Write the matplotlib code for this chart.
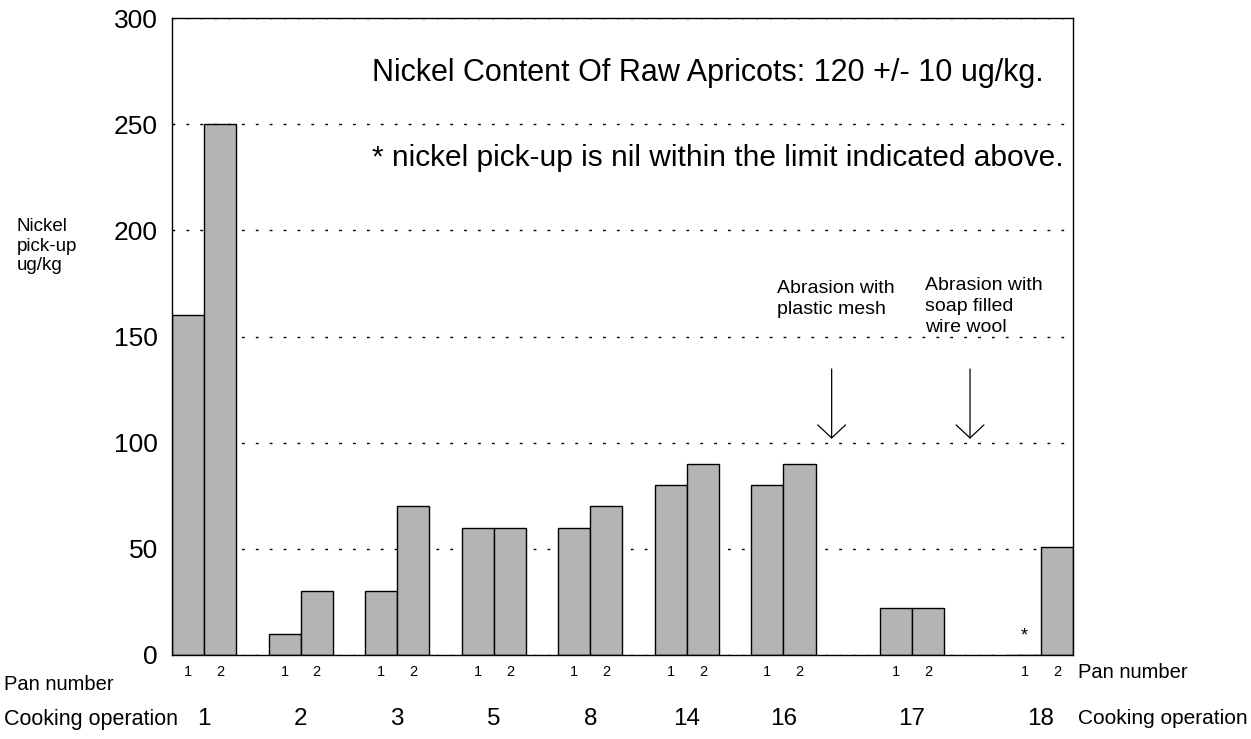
import matplotlib
matplotlib.use("Agg")
import matplotlib.pyplot as plt
import matplotlib.transforms as mtransforms

# data (ug/kg nickel pick-up)
operations = ["1", "2", "3", "5", "8", "14", "16", "17", "18"]
pan1 = [160, 10, 30, 60, 60, 80, 80, 22, 0]
pan2 = [250, 30, 70, 60, 70, 90, 90, 22, 51]
pan1_nil = [False, False, False, False, False, False, False, False, True]
pan_labels = ["1", "2"]
yticks = [0, 50, 100, 150, 200, 250, 300]
abrasions = ["Abrasion with\nplastic mesh", "Abrasion with\nsoap filled\nwire wool"]

plt.rcParams["font.family"] = ["Liberation Sans", "DejaVu Sans"]

fig = plt.figure(figsize=(12.51, 7.39), dpi=100)
ax = fig.add_axes([172 / 1251, 1 - 655 / 739, (1073 - 172) / 1251, (655 - 18) / 739])

# group positions: 3 slots per group, one extra slot where an abrasion happened
starts = []
pos = 0
for op in operations:
    if op in ("17", "18"):
        pos += 1
    starts.append(pos)
    pos += 3

gray = "#b4b4b4"
x1 = [s for s in starts]
x2 = [s + 1 for s in starts]
h1 = [0 if nil else v for v, nil in zip(pan1, pan1_nil)]
ax.bar(x1, h1, width=1, align="edge", facecolor=gray, edgecolor="black", linewidth=1)
ax.bar(x2, pan2, width=1, align="edge", facecolor=gray, edgecolor="black", linewidth=1)
for x, nil in zip(x1, pan1_nil):
    if nil:
        ax.text(x + 0.5, 5, "*", ha="center", va="bottom", fontsize=13)

ax.set_xlim(0, pos - 1)
ax.set_ylim(0, 300)
ax.set_yticks(yticks)
ax.tick_params(axis="y", length=0, pad=10, labelsize=19)

centers = []
labels = []
for s in starts:
    centers += [s + 0.5, s + 1.5]
    labels += pan_labels
ax.set_xticks(centers)
ax.set_xticklabels(labels, fontsize=10.5)
ax.tick_params(axis="x", length=0, pad=7)

ax.yaxis.grid(True, linestyle=(0, (2, 8)), color="black", linewidth=1)
ax.set_axisbelow(True)
for sp in ax.spines.values():
    sp.set_linewidth(1)

# operation numbers under each group
trans = mtransforms.blended_transform_factory(ax.transData, fig.transFigure)
for s, op in zip(starts, operations):
    ax.text(s + 1, 1 - 719 / 739, op, transform=trans, ha="center", va="center", fontsize=17.5)

fig.text(4 / 1251, 1 - 685 / 739, "Pan number", fontsize=14.5, va="center")
fig.text(4 / 1251, 1 - 719 / 739, "Cooking operation", fontsize=15.5, va="center")
fig.text(1078 / 1251, 1 - 672 / 739, "Pan number", fontsize=14.5, va="center")
fig.text(1078 / 1251, 1 - 719 / 739, "Cooking operation", fontsize=15, va="center")
fig.text(17 / 1251, 1 - 218 / 739, "Nickel\npick-up\nug/kg", fontsize=13.5, va="top", linespacing=1.2)

ax.text(6.2, 274, "Nickel Content Of Raw Apricots: 120 +/- 10 ug/kg.", fontsize=22, va="center")
ax.text(6.2, 234, "* nickel pick-up is nil within the limit indicated above.", fontsize=21.5, va="center")

# abrasion arrows and notes
arrow_x = [starts[6] + 2.5, starts[7] + 2.8]
note_x = [18.8, 23.4]
note_y = [176.5, 178]
for ax_x, nx, ny, note in zip(arrow_x, note_x, note_y, abrasions):
    ax.annotate("", xy=(ax_x, 100.5), xytext=(ax_x, 136),
                arrowprops=dict(arrowstyle="->,head_length=0.47,head_width=0.5",
                                mutation_scale=20, color="black", linewidth=0.9))
    ax.text(nx, ny, note, fontsize=14, va="top", ha="left", linespacing=1.3)

fig.savefig("out.png", dpi=100)
